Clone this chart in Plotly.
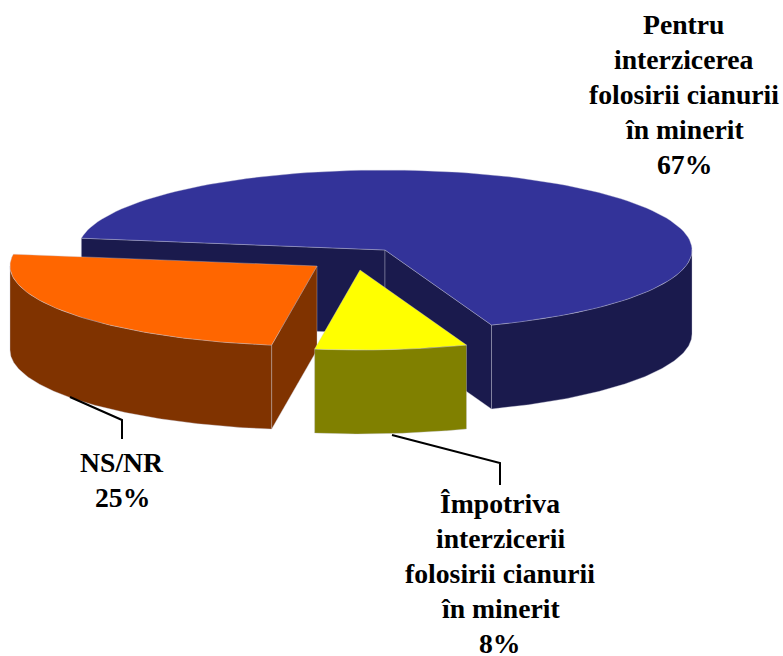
import numpy as np
import plotly.graph_objects as go

slice_names = ["Pentru interzicerea folosirii cianurii în minerit", "Împotriva interzicerii folosirii cianurii în minerit", "NS/NR"]
slice_values = [67, 8, 25]
label_lines = [
    ["Pentru", "interzicerea", "folosirii cianurii", "în minerit", "67%"],
    ["Împotriva", "interzicerii", "folosirii cianurii", "în minerit", "8%"],
    ["NS/NR", "25%"],
]

top_colors = ["#333399", "#FFFF00", "#FF6600"]
side_colors = ["#1A1A4D", "#808000", "#803300"]
centers = [(385, 250), (360, 270), (317, 266)]
RX, RY, DEPTH = 307, 80, 84
START = 188.5
EDGE = "rgba(200,200,215,0.45)"

fig = go.Figure()


def poly(xs, ys, color, name, line=EDGE):
    fig.add_trace(go.Scatter(x=list(xs), y=list(ys), mode="lines", fill="toself",
                             fillcolor=color, line=dict(color=line, width=0.8),
                             hoverinfo="name", name=name, showlegend=False))


# sweep angles derived from the values (clockwise on screen)
total = sum(slice_values)
angles = []
a = START
for v in slice_values:
    angles.append((a, a + v / total * 360))
    a += v / total * 360


def rim(cx, cy, a0, a1, n=120):
    t = np.radians(np.linspace(a0, a1, n))
    return cx + RX * np.cos(t), cy + RY * np.sin(t)


def draw(i):
    cx, cy = centers[i]
    a0, a1 = angles[i]
    name = slice_names[i]
    x, y = rim(cx, cy, a0, a1)
    # cut walls
    if i == 0:
        poly([x[0], cx, cx, x[0], x[0]], [y[0], cy, cy + DEPTH, y[0] + DEPTH, y[0]], side_colors[i], name)
        poly([cx, x[-1], x[-1], cx, cx], [cy, y[-1], y[-1] + DEPTH, cy + DEPTH, cy], side_colors[i], name)
    if i == 2:
        poly([cx, x[0], x[0], cx, cx], [cy, y[0], y[0] + DEPTH, cy + DEPTH, cy], side_colors[i], name)
    # outer rim: only the part facing the viewer
    lo, hi = a0, a1
    for k in (0, 360):
        s, e = max(lo, k), min(hi, k + 180)
        if e > s:
            rx_, ry_ = rim(cx, cy, s, e)
            poly(np.r_[rx_, rx_[::-1], rx_[0]], np.r_[ry_, ry_[::-1] + DEPTH, ry_[0]], side_colors[i], name)
    # top face
    poly(np.r_[cx, x, cx], np.r_[cy, y, cy], top_colors[i], name)


for i in (0, 2, 1):
    draw(i)

# leader lines
for lx, ly in [([70, 122, 122], [397, 420, 439]), ([392, 500, 500], [435, 463, 485])]:
    fig.add_trace(go.Scatter(x=lx, y=ly, mode="lines", line=dict(color="black", width=2),
                             hoverinfo="skip", showlegend=False))

# labels
anchors = [(684, 24), (500, 503), (122, 462)]
STEP = 35.0
for lines, (ax, ay) in zip(label_lines, anchors):
    for j, t in enumerate(lines):
        fig.add_annotation(x=ax, y=ay + j * STEP, text=f"<b>{t}</b>", showarrow=False,
                           font=dict(family="Liberation Serif", size=27.7, color="black"),
                           xanchor="center", yanchor="middle")

fig.update_xaxes(range=[0, 783], visible=False, fixedrange=True)
fig.update_yaxes(range=[656, 0], visible=False, fixedrange=True)
fig.update_layout(width=783, height=656, margin=dict(l=0, r=0, t=0, b=0),
                  paper_bgcolor="white", plot_bgcolor="white", showlegend=False)
fig.write_html("out.html", post_script="document.body.style.margin='0';document.documentElement.style.overflow='hidden';",
               config={"displayModeBar": False})
